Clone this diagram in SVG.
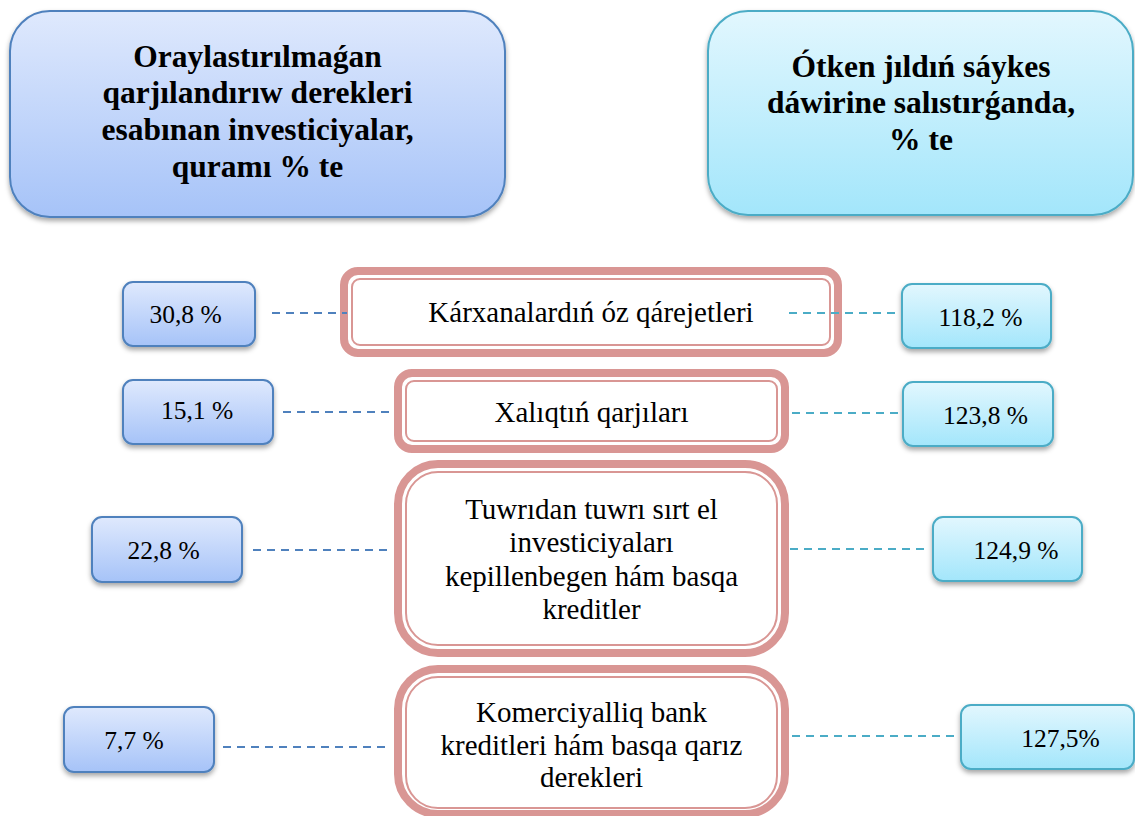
<svg xmlns="http://www.w3.org/2000/svg" width="1135" height="816" viewBox="0 0 1135 816">
<defs>
<linearGradient id="gBlue" x1="0" y1="0" x2="0" y2="1">
<stop offset="0" stop-color="#dfe9fd"/><stop offset="1" stop-color="#a6c3f8"/>
</linearGradient>
<linearGradient id="gCyan" x1="0" y1="0" x2="0" y2="1">
<stop offset="0" stop-color="#e2f7fe"/><stop offset="1" stop-color="#a3e6fb"/>
</linearGradient>
<filter id="sh" x="-20%" y="-20%" width="140%" height="150%">
<feDropShadow dx="0" dy="3" stdDeviation="2.5" flood-color="#000" flood-opacity="0.35"/>
</filter>
<style>
.blue{fill:url(#gBlue);stroke:#4f81bd;stroke-width:2;filter:url(#sh)}
.cyan{fill:url(#gCyan);stroke:#4bacc6;stroke-width:2;filter:url(#sh)}
.thick{fill:#fff;stroke:#d99694;stroke-width:8}
.thin{fill:none;stroke:#d99694;stroke-width:2}
.title{font-family:"Liberation Serif","Times New Roman",serif;font-weight:bold;font-size:31.5px;fill:#000;text-anchor:middle}
.lbl{font-family:"Liberation Serif","Times New Roman",serif;font-size:29px;fill:#000;text-anchor:middle}
.num{font-family:"Liberation Serif","Times New Roman",serif;font-size:25.5px;fill:#000;text-anchor:middle}
.cb{stroke:#4f81bd;stroke-width:2;stroke-dasharray:8 6;fill:none}
.cc{stroke:#4bacc6;stroke-width:2;stroke-dasharray:8 6;fill:none}
</style>
</defs>
<rect width="1135" height="816" fill="#fff"/>

<g id="title-left">
<rect class="blue" x="10" y="11" width="495" height="206" rx="40"/>
<text class="title" x="257.5" y="67">Oraylastırılmaǵan</text>
<text class="title" x="257.5" y="103">qarjılandırıw derekleri</text>
<text class="title" x="257.5" y="140">esabınan investiciyalar,</text>
<text class="title" x="257.5" y="177">quramı % te</text>
</g>

<g id="title-right">
<rect class="cyan" x="708" y="11" width="425" height="204" rx="40"/>
<text class="title" x="921" y="77">Ótken jıldıń sáykes</text>
<text class="title" x="921" y="113">dáwirine salıstırǵanda,</text>
<text class="title" x="921" y="150">% te</text>
</g>

<g id="src1">
<rect class="thick" x="344" y="271" width="494" height="82" rx="14"/>
<rect class="thin" x="352" y="279" width="478" height="66" rx="8"/>
<text class="lbl" x="591" y="322">Kárxanalardıń óz qárejetleri</text>
</g>
<g id="src2">
<rect class="thick" x="398" y="373" width="387" height="76" rx="14"/>
<rect class="thin" x="406" y="381" width="371" height="60" rx="8"/>
<text class="lbl" x="591.5" y="422">Xalıqtıń qarjıları</text>
</g>
<g id="src3">
<rect class="thick" x="398" y="464" width="387" height="189" rx="40"/>
<rect class="thin" x="406" y="472" width="371" height="173" rx="32"/>
<text class="lbl" x="591.5" y="519">Tuwrıdan tuwrı sırt el</text>
<text class="lbl" x="591.5" y="552">investiciyaları</text>
<text class="lbl" x="591.5" y="586">kepillenbegen hám basqa</text>
<text class="lbl" x="591.5" y="619">kreditler</text>
</g>
<g id="src4">
<rect class="thick" x="398" y="669" width="387" height="145" rx="40"/>
<rect class="thin" x="406" y="677" width="371" height="131" rx="32"/>
<text class="lbl" x="591.5" y="722">Komerciyalliq bank</text>
<text class="lbl" x="591.5" y="755">kreditleri hám basqa qarız</text>
<text class="lbl" x="591.5" y="787">derekleri</text>
</g>

<g id="share1">
<rect class="blue" x="123" y="282" width="132" height="64" rx="10"/>
<text class="num" x="185.5" y="323">30,8 %</text>
</g>
<g id="share2">
<rect class="blue" x="123" y="380" width="150" height="64" rx="10"/>
<text class="num" x="197" y="419">15,1 %</text>
</g>
<g id="share3">
<rect class="blue" x="92" y="517" width="150" height="65" rx="10"/>
<text class="num" x="163.5" y="559">22,8 %</text>
</g>
<g id="share4">
<rect class="blue" x="64" y="707" width="150" height="65" rx="10"/>
<text class="num" x="134" y="749">7,7 %</text>
</g>

<g id="growth1">
<rect class="cyan" x="902" y="284" width="149" height="64" rx="10"/>
<text class="num" x="980.5" y="326">118,2 %</text>
</g>
<g id="growth2">
<rect class="cyan" x="903" y="382" width="150" height="64" rx="10"/>
<text class="num" x="985.5" y="424">123,8 %</text>
</g>
<g id="growth3">
<rect class="cyan" x="933" y="517" width="149" height="64" rx="10"/>
<text class="num" x="1016" y="559">124,9 %</text>
</g>
<g id="growth4">
<rect class="cyan" x="961" y="705" width="173" height="64" rx="10"/>
<text class="num" x="1060.5" y="747">127,5%</text>
</g>

<g id="connectors">
<line class="cb" x1="272" y1="313" x2="347" y2="313"/>
<line class="cc" x1="789" y1="313" x2="898" y2="313"/>
<line class="cb" x1="283" y1="412" x2="390" y2="412"/>
<line class="cc" x1="792" y1="413" x2="900" y2="413"/>
<line class="cb" x1="253" y1="550" x2="390" y2="550"/>
<line class="cc" x1="790" y1="549" x2="930" y2="549"/>
<line class="cb" x1="223" y1="747" x2="390" y2="747"/>
<line class="cc" x1="792" y1="736" x2="958" y2="736"/>
</g>
</svg>
